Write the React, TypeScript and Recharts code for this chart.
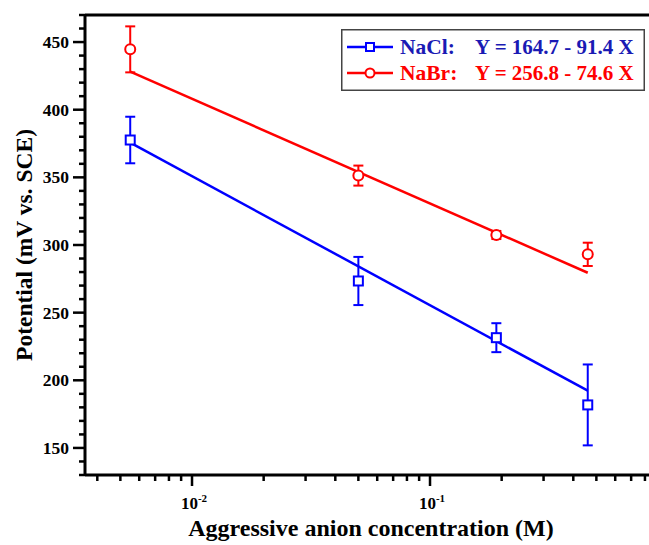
import React from 'react';
import { ScatterChart, Scatter, XAxis, YAxis, ErrorBar, ReferenceLine, Legend } from 'recharts';

// ---- data ----
const concentrations = [0.0055, 0.05, 0.19, 0.46];
const naclPotential = [377.6, 273.4, 231.5, 181.8];
const naclError = [17.2, 17.8, 10.7, 29.9];
const nabrPotential = [444.6, 351.3, 307.4, 293.1];
const nabrError = [17, 7.4, 3, 8.6];

const fitConcentrations = [0.0055, 0.46];
const naclFit = [375.6, 192.3];
const nabrFit = [428.1, 279.5];

const xMajorTicks = [0.01, 0.1];
const xMajorExponents = ['-2', '-1'];
const xMinorTicks = [0.004, 0.005, 0.006, 0.007, 0.008, 0.009, 0.02, 0.03, 0.04, 0.05, 0.06, 0.07, 0.08, 0.09, 0.2, 0.3, 0.4, 0.5, 0.6, 0.7, 0.8];
const yMajorTicks = [150, 200, 250, 300, 350, 400, 450];
const yMinorTicks = [130, 140, 160, 170, 180, 190, 210, 220, 230, 240, 260, 270, 280, 290, 310, 320, 330, 340, 360, 370, 380, 390, 410, 420, 430, 440, 460, 470];

const xDomain = [0.003551, 0.832];
const yDomain = [130, 470];

const legendRows = [
  { name: 'NaCl:', equation: 'Y = 164.7 - 91.4 X', color: '#0000ff', text: '#1a1ab4', marker: 'square' },
  { name: 'NaBr:', equation: 'Y = 256.8 - 74.6 X', color: '#ff0000', text: '#ff0000', marker: 'circle' },
];

const naclData = concentrations.map((c, i) => ({ x: c, y: naclPotential[i], err: naclError[i] }));
const nabrData = concentrations.map((c, i) => ({ x: c, y: nabrPotential[i], err: nabrError[i] }));
const naclFitData = fitConcentrations.map((c, i) => ({ x: c, y: naclFit[i] }));
const nabrFitData = fitConcentrations.map((c, i) => ({ x: c, y: nabrFit[i] }));

const FONT = '"Liberation Serif", "Times New Roman", serif';

const XTick = (props: any) => {
  const { x, y, payload } = props;
  const idx = xMajorTicks.indexOf(payload.value);
  const major = idx >= 0;
  return (
    <g>
      <line x1={x} x2={x} y1={y} y2={y + (major ? 11 : 6)} stroke="#000" strokeWidth={2.5} />
      {major && (
        <text x={x + 2} y={y + 34} textAnchor="middle" fontFamily={FONT} fontWeight="bold" fontSize={17} fill="#000">
          10
          <tspan dy={-7} fontSize={11}>{xMajorExponents[idx]}</tspan>
        </text>
      )}
    </g>
  );
};

const YTick = (props: any) => {
  const { x, y, payload } = props;
  const major = yMajorTicks.includes(payload.value);
  return (
    <g>
      <line x1={x - (major ? 12 : 6)} x2={x} y1={y} y2={y} stroke="#000" strokeWidth={2.5} />
      {major && (
        <text x={x - 16} y={y} dy="0.35em" textAnchor="end" fontFamily={FONT} fontWeight="bold" fontSize={17.5} fill="#000">
          {payload.value}
        </text>
      )}
    </g>
  );
};

const SquareShape = (props: any) => {
  const { cx, cy } = props;
  return <rect x={cx - 4.5} y={cy - 4.5} width={9} height={9} fill="#fff" stroke="#0000ff" strokeWidth={2} />;
};
const CircleShape = (props: any) => {
  const { cx, cy } = props;
  return <circle cx={cx} cy={cy} r={5} fill="#fff" stroke="#ff0000" strokeWidth={2} />;
};
const NoShape = () => <g />;

const LegendBox = () => (
  <svg width={304} height={62} style={{ display: 'block' }}>
    <rect x={0.75} y={0.75} width={302.5} height={60.5} fill="#fff" stroke="#444" strokeWidth={1.5} />
    {legendRows.map((r, i) => {
      const cy = 18 + i * 26;
      return (
        <g key={r.name}>
          <line x1={6} x2={52} y1={cy} y2={cy} stroke={r.color} strokeWidth={2.5} />
          {r.marker === 'square' ? (
            <rect x={25} y={cy - 4} width={8} height={8} fill="#fff" stroke={r.color} strokeWidth={2} />
          ) : (
            <circle cx={29} cy={cy} r={4.5} fill="#fff" stroke={r.color} strokeWidth={2} />
          )}
          <text x={59} y={cy + 7} fontFamily={FONT} fontWeight="bold" fontSize={21.5} fill={r.text}>{r.name}</text>
          <text x={134} y={cy + 7} fontFamily={FONT} fontWeight="bold" fontSize={21} fill={r.text}>{r.equation}</text>
        </g>
      );
    })}
  </svg>
);

export default function App() {
  return (
    <div style={{ position: 'absolute', left: 0, top: 0, width: 649, height: 545, background: '#fff' }}>
      <ScatterChart width={649} height={545} margin={{ top: 15, right: 0, bottom: 0, left: 0 }}>
        <XAxis
          type="number"
          dataKey="x"
          scale="log"
          domain={xDomain}
          allowDataOverflow
          ticks={[...xMajorTicks, ...xMinorTicks]}
          interval={0}
          tick={<XTick />}
          tickLine={false}
          tickSize={0}
          tickMargin={0}
          height={70}
          axisLine={{ stroke: '#000', strokeWidth: 3 }}
          label={{
            content: () => (
              <text x={371} y={536} textAnchor="middle" fontFamily={FONT} fontWeight="bold" fontSize={24} fill="#000">
                Aggressive anion concentration (M)
              </text>
            ),
          }}
        />
        <YAxis
          type="number"
          dataKey="y"
          domain={yDomain}
          allowDataOverflow
          ticks={[...yMajorTicks, ...yMinorTicks].sort((a, b) => a - b)}
          interval={0}
          tick={<YTick />}
          tickLine={false}
          tickSize={0}
          tickMargin={0}
          width={85}
          axisLine={{ stroke: '#000', strokeWidth: 3 }}
          label={{
            content: () => (
              <text
                x={32}
                y={245}
                textAnchor="middle"
                transform="rotate(-90, 32, 245)"
                fontFamily={FONT}
                fontWeight="bold"
                fontSize={23.5}
                fill="#000"
              >
                Potential (mV vs. SCE)
              </text>
            ),
          }}
        />
        <ReferenceLine y={470} stroke="#000" strokeWidth={3} />
        <Scatter
          name="NaCl fit"
          data={naclFitData}
          line={{ stroke: '#0000ff', strokeWidth: 2.5 }}
          lineType="joint"
          shape={<NoShape />}
          legendType="none"
          isAnimationActive={false}
        />
        <Scatter
          name="NaBr fit"
          data={nabrFitData}
          line={{ stroke: '#ff0000', strokeWidth: 2.5 }}
          lineType="joint"
          shape={<NoShape />}
          legendType="none"
          isAnimationActive={false}
        />
        <Scatter name="NaCl" data={naclData} shape={<SquareShape />} isAnimationActive={false}>
          <ErrorBar dataKey="err" direction="y" width={5} stroke="#0000ff" strokeWidth={2} />
        </Scatter>
        <Scatter name="NaBr" data={nabrData} shape={<CircleShape />} isAnimationActive={false}>
          <ErrorBar dataKey="err" direction="y" width={5} stroke="#ff0000" strokeWidth={2} />
        </Scatter>
        <Legend
          layout="horizontal"
          verticalAlign="middle"
          align="center"
          content={<LegendBox />}
          wrapperStyle={{ left: 341, top: 29, width: 304, height: 62 }}
        />
      </ScatterChart>
    </div>
  );
}
